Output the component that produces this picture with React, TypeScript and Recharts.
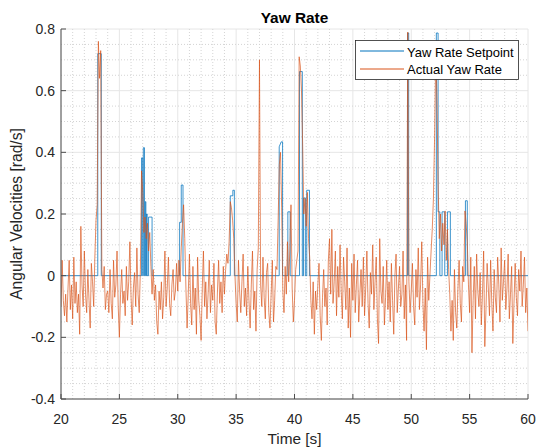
import React from 'react';
import { LineChart, Line, XAxis, YAxis, CartesianGrid, ReferenceLine } from 'recharts';

// ---- axis ticks ----
const xTicks = [20, 25, 30, 35, 40, 45, 50, 55, 60];
const yTicks = [-0.4, -0.2, 0, 0.2, 0.4, 0.6, 0.8];
const xMinorTicks = [21, 22, 23, 24, 26, 27, 28, 29, 31, 32, 33, 34, 36, 37, 38, 39, 41, 42, 43, 44, 46, 47, 48, 49, 51, 52, 53, 54, 56, 57, 58, 59];
const yMinorTicks = [-0.35, -0.3, -0.25, -0.15, -0.1, -0.05, 0.05, 0.1, 0.15, 0.25, 0.3, 0.35, 0.45, 0.5, 0.55, 0.65, 0.7, 0.75];

// ---- Yaw Rate Setpoint (time [s], value [rad/s]) ----
const setpointTime = [
  20, 23.15, 23.15, 23.45, 23.45,
  26.9, 26.9, 27.0, 27.0, 27.05, 27.05, 27.15, 27.15, 27.22, 27.22, 27.27, 27.27, 27.33, 27.33, 27.38, 27.38, 27.5, 27.5, 27.8, 27.8,
  30.16, 30.16, 30.3, 30.3, 30.45, 30.45,
  34.5, 34.5, 34.72, 34.72, 34.85, 34.85,
  38.69, 38.69, 38.86, 38.98, 38.98,
  39.43, 39.43, 39.63, 39.63,
  40.43, 40.43, 40.67, 40.67, 40.77, 40.77, 40.93, 40.93, 41.05, 41.05, 41.28, 41.28,
  49.68, 49.68, 49.78, 49.78,
  52.15, 52.15, 52.3, 52.3, 52.45, 52.45, 52.64, 52.64, 52.87, 52.87, 53.1, 53.1, 53.35, 53.35,
  54.64, 54.64, 54.8, 54.8,
  60,
];
const setpointRate = [
  0, 0, 0.72, 0.72, 0,
  0, 0.382, 0.382, 0, 0, 0.415, 0.415, 0, 0, 0.24, 0.24, 0, 0, 0.2, 0.2, 0, 0, 0.19, 0.19, 0,
  0, 0.173, 0.173, 0.294, 0.294, 0,
  0, 0.259, 0.259, 0.277, 0.277, 0,
  0, 0.418, 0.434, 0.434, 0,
  0, 0.207, 0.207, 0,
  0, 0.662, 0.662, 0, 0, 0.252, 0.252, 0, 0, 0.277, 0.277, 0,
  0, 0.787, 0.787, 0,
  0, 0.787, 0.787, 0.207, 0.207, 0, 0, 0.207, 0.207, 0, 0, 0.207, 0.207, 0,
  0, 0.243, 0.243, 0,
  0,
];

// ---- Actual Yaw Rate, sampled every 0.1 s from 20 s ----
const actualStartTime = 20;
const actualSampleStep = 0.1;
const actualRate = [
  -0.10, 0.05, -0.08, -0.13, -0.06, -0.15, -0.04, 0.05, -0.11, -0.03,
  -0.14, 0.06, -0.09, -0.02, -0.12, -0.06, -0.19, 0.16, -0.03, -0.10,
  0.08, -0.06, -0.12, 0.02, -0.08, -0.17, 0.04, -0.02, -0.10, 0.06,
  0.18, 0.23, 0.76, 0.64, 0.73, 0.02, -0.04, 0.03, -0.11, -0.06,
  -0.05, -0.12, 0.02, -0.09, -0.14, 0.05, -0.07, -0.03, 0.08, -0.10,
  -0.20, -0.06, 0.02, -0.09, -0.05, -0.13, 0.03, -0.08, -0.02, 0.11,
  -0.07, -0.16, -0.04, 0.01, -0.10, 0.09, -0.06, -0.12, 0.02, 0.34,
  0.27, 0.14, 0.19, 0.12, 0.17, 0.08, 0.14, 0.03, -0.06, 0.02,
  -0.08, -0.03, -0.15, -0.19, -0.05, -0.11, -0.02, -0.14, -0.07, 0.08,
  -0.10, -0.04, 0.06, -0.09, -0.13, -0.03, 0.02, -0.08, -0.05, 0.04,
  -0.05, 0.05, -0.02, 0.09, 0.17, 0.23, 0.12, -0.04, -0.17, -0.06,
  0.07, -0.09, -0.16, 0.03, -0.11, -0.04, -0.19, 0.06, -0.08, -0.13,
  -0.21, -0.04, 0.08, -0.10, -0.02, -0.14, -0.06, 0.05, -0.12, -0.03,
  -0.08, 0.04, -0.15, -0.19, -0.05, 0.05, -0.09, -0.02, -0.12, 0.03,
  -0.06, 0.02, 0.07, 0.04, 0.11, 0.24, 0.22, 0.18, 0.12, 0.00,
  -0.09, -0.15, 0.05, -0.05, -0.12, -0.02, 0.07, -0.10, -0.04, -0.13,
  0.03, -0.08, -0.17, -0.03, 0.08, -0.11, -0.05, -0.18, 0.02, 0.09,
  0.70, -0.03, -0.10, 0.06, -0.07, -0.14, 0.01, 0.04, -0.12, -0.17,
  -0.06, 0.05, -0.15, -0.08, 0.03, 0.02, 0.18, 0.36, 0.40, 0.22,
  -0.05, -0.12, 0.03, -0.06, 0.11, -0.02, 0.08, 0.23, -0.04, -0.15,
  -0.08, 0.02, 0.05, 0.08, 0.71, 0.68, 0.60, 0.42, 0.20, 0.25,
  0.16, 0.27, 0.12, 0.06, -0.08, -0.14, -0.02, -0.19, -0.05, -0.11,
  -0.03, 0.04, -0.13, -0.21, -0.07, 0.02, -0.10, -0.04, -0.16, 0.05,
  0.12, -0.06, 0.15, -0.09, -0.02, 0.08, -0.13, 0.03, -0.07, 0.10,
  -0.05, -0.14, 0.06, -0.02, -0.11, 0.09, -0.17, -0.04, -0.20, 0.04,
  -0.08, 0.07, -0.12, -0.03, 0.05, -0.15, -0.06, 0.02, -0.10, 0.06,
  -0.13, -0.04, 0.08, -0.09, -0.17, 0.01, -0.06, 0.10, -0.11, -0.02,
  0.06, -0.14, -0.22, 0.12, -0.05, -0.09, 0.03, -0.16, -0.07, 0.05,
  -0.11, -0.02, -0.15, 0.04, -0.08, -0.19, 0.00, 0.07, -0.12, -0.04,
  0.03, -0.10, -0.06, 0.08, -0.14, -0.03, -0.21, 0.79, -0.02, -0.12,
  -0.05, 0.04, -0.10, -0.16, 0.02, -0.07, 0.09, -0.11, -0.03, 0.11,
  -0.09, -0.18, -0.04, -0.24, 0.06, -0.08, 0.00, 0.08, 0.15, 0.25,
  0.45, 0.72, 0.58, 0.30, 0.12, 0.20, 0.08, 0.17, 0.10, 0.21,
  0.05, 0.15, 0.02, -0.06, -0.18, -0.08, -0.21, 0.02, -0.12, -0.17,
  -0.04, 0.05, -0.09, -0.15, 0.03, -0.02, 0.21, 0.17, 0.11, -0.03,
  -0.12, 0.06, -0.25, -0.08, 0.03, -0.14, 0.07, -0.05, -0.10, 0.01,
  -0.16, -0.06, 0.08, -0.23, -0.11, 0.04, -0.04, -0.13, 0.05, -0.09,
  -0.18, 0.02, -0.07, -0.12, 0.06, -0.03, -0.15, 0.09, -0.08, -0.02,
  0.05, -0.11, -0.04, 0.07, -0.14, -0.06, 0.03, -0.22, -0.09, 0.04,
  -0.07, -0.13, 0.02, -0.05, 0.08, -0.10, -0.03, 0.06, -0.12, -0.04,
  -0.18,
];

const setpointData = setpointTime.map((t, i) => ({ t, v: setpointRate[i] }));
const actualData = actualRate.map((v, i) => ({ t: Math.round((actualStartTime + i * actualSampleStep) * 100) / 100, v }));

const FONT = '"Liberation Sans", Arial, Helvetica, sans-serif';
const AXIS = '#4d4d4d';
const TEXT = '#262626';
const BLUE = '#0072BD';
const ORANGE = '#D95319';
const TICK_LEN = 5;

const fmtY = (v: number) => (Math.abs(v) < 1e-9 ? '0' : v.toFixed(1));

const XTickBottom = (props: any) => {
  const { x, y, payload } = props;
  return (
    <g>
      <line x1={x} x2={x} y1={y} y2={y - TICK_LEN} stroke={AXIS} strokeWidth={1} />
      <text x={x} y={y + 24.5} textAnchor="middle" fontFamily={FONT} fontSize={14} fill={TEXT}>
        {payload.value}
      </text>
    </g>
  );
};
const XTickTop = (props: any) => {
  const { x, y } = props;
  return <line x1={x} x2={x} y1={y} y2={y + TICK_LEN} stroke={AXIS} strokeWidth={1} />;
};
const YTickLeft = (props: any) => {
  const { x, y, payload } = props;
  return (
    <g>
      <line x1={x} x2={x + TICK_LEN} y1={y} y2={y} stroke={AXIS} strokeWidth={1} />
      <text x={x - 6} y={y} dy="0.36em" textAnchor="end" fontFamily={FONT} fontSize={14} fill={TEXT}>
        {fmtY(payload.value)}
      </text>
    </g>
  );
};
const YTickRight = (props: any) => {
  const { x, y } = props;
  return <line x1={x} x2={x - TICK_LEN} y1={y} y2={y} stroke={AXIS} strokeWidth={1} />;
};

export default function App() {
  const W = 536;
  const H = 448;
  return (
    <div style={{ position: 'absolute', left: 0, top: 0, width: W, height: H, background: '#fff' }}>
      <LineChart width={W} height={H} margin={{ top: 29, right: 8, bottom: 0, left: 0 }}>
        <CartesianGrid stroke="#e6e6e6" strokeWidth={1} />
        {xMinorTicks.map((t) => (
          <ReferenceLine key={'mx' + t} x={t} stroke="#d4d4d4" strokeDasharray="1 2" strokeWidth={1} ifOverflow="hidden" />
        ))}
        {yMinorTicks.map((v) => (
          <ReferenceLine key={'my' + v} y={v} stroke="#d4d4d4" strokeDasharray="1 2" strokeWidth={1} ifOverflow="hidden" />
        ))}
        <XAxis
          dataKey="t"
          type="number"
          domain={[20, 60]}
          ticks={xTicks}
          allowDataOverflow
          height={49}
          tickSize={0}
          tickMargin={0}
          tickLine={false}
          axisLine={{ stroke: AXIS, strokeWidth: 1 }}
          tick={XTickBottom}
          interval={0}
        />
        <XAxis
          xAxisId="top"
          orientation="top"
          dataKey="t"
          type="number"
          domain={[20, 60]}
          ticks={xTicks}
          allowDataOverflow
          height={0}
          tickSize={0}
          tickMargin={0}
          tickLine={false}
          axisLine={{ stroke: AXIS, strokeWidth: 1 }}
          tick={XTickTop}
          interval={0}
        />
        <YAxis
          type="number"
          domain={[-0.4, 0.8]}
          ticks={yTicks}
          allowDataOverflow
          width={61}
          tickSize={0}
          tickMargin={0}
          tickLine={false}
          axisLine={{ stroke: AXIS, strokeWidth: 1 }}
          tick={YTickLeft}
          interval={0}
        />
        <YAxis
          yAxisId="right"
          orientation="right"
          type="number"
          domain={[-0.4, 0.8]}
          ticks={yTicks}
          allowDataOverflow
          width={0}
          tickSize={0}
          tickMargin={0}
          tickLine={false}
          axisLine={{ stroke: AXIS, strokeWidth: 1 }}
          tick={YTickRight}
          interval={0}
        />
        <Line
          data={setpointData}
          dataKey="v"
          type="linear"
          stroke={BLUE}
          strokeWidth={0.85}
          strokeOpacity={0.9}
          dot={false}
          activeDot={false}
          isAnimationActive={false}
        />
        <Line
          data={actualData}
          dataKey="v"
          type="linear"
          stroke={ORANGE}
          strokeWidth={0.75}
          strokeOpacity={0.9}
          dot={false}
          activeDot={false}
          isAnimationActive={false}
        />
      </LineChart>
      <svg
        width={W}
        height={H}
        style={{ position: 'absolute', left: 0, top: 0, pointerEvents: 'none' }}
      >
        <text x={294.5} y={23} textAnchor="middle" fontFamily={FONT} fontSize={15.4} fontWeight="bold" fill="#000">
          Yaw Rate
        </text>
        <text x={294.5} y={444} textAnchor="middle" fontFamily={FONT} fontSize={15.4} fill={TEXT}>
          Time [s]
        </text>
        <text
          transform="translate(22,214) rotate(-90)"
          textAnchor="middle"
          fontFamily={FONT}
          fontSize={15.6}
          fill={TEXT}
        >
          Angular Velocities [rad/s]
        </text>
        <g>
          <rect x={355.5} y={40.5} width={163} height={39} fill="#fff" stroke={TEXT} strokeWidth={0.8} />
          <line x1={360} x2={404} y1={51} y2={51} stroke={BLUE} strokeWidth={1} />
          <text x={407} y={56.5} fontFamily={FONT} fontSize={13} fill="#000">
            Yaw Rate Setpoint
          </text>
          <line x1={360} x2={404} y1={69} y2={69} stroke={ORANGE} strokeWidth={1} />
          <text x={407} y={73.5} fontFamily={FONT} fontSize={13} fill="#000">
            Actual Yaw Rate
          </text>
        </g>
      </svg>
    </div>
  );
}
